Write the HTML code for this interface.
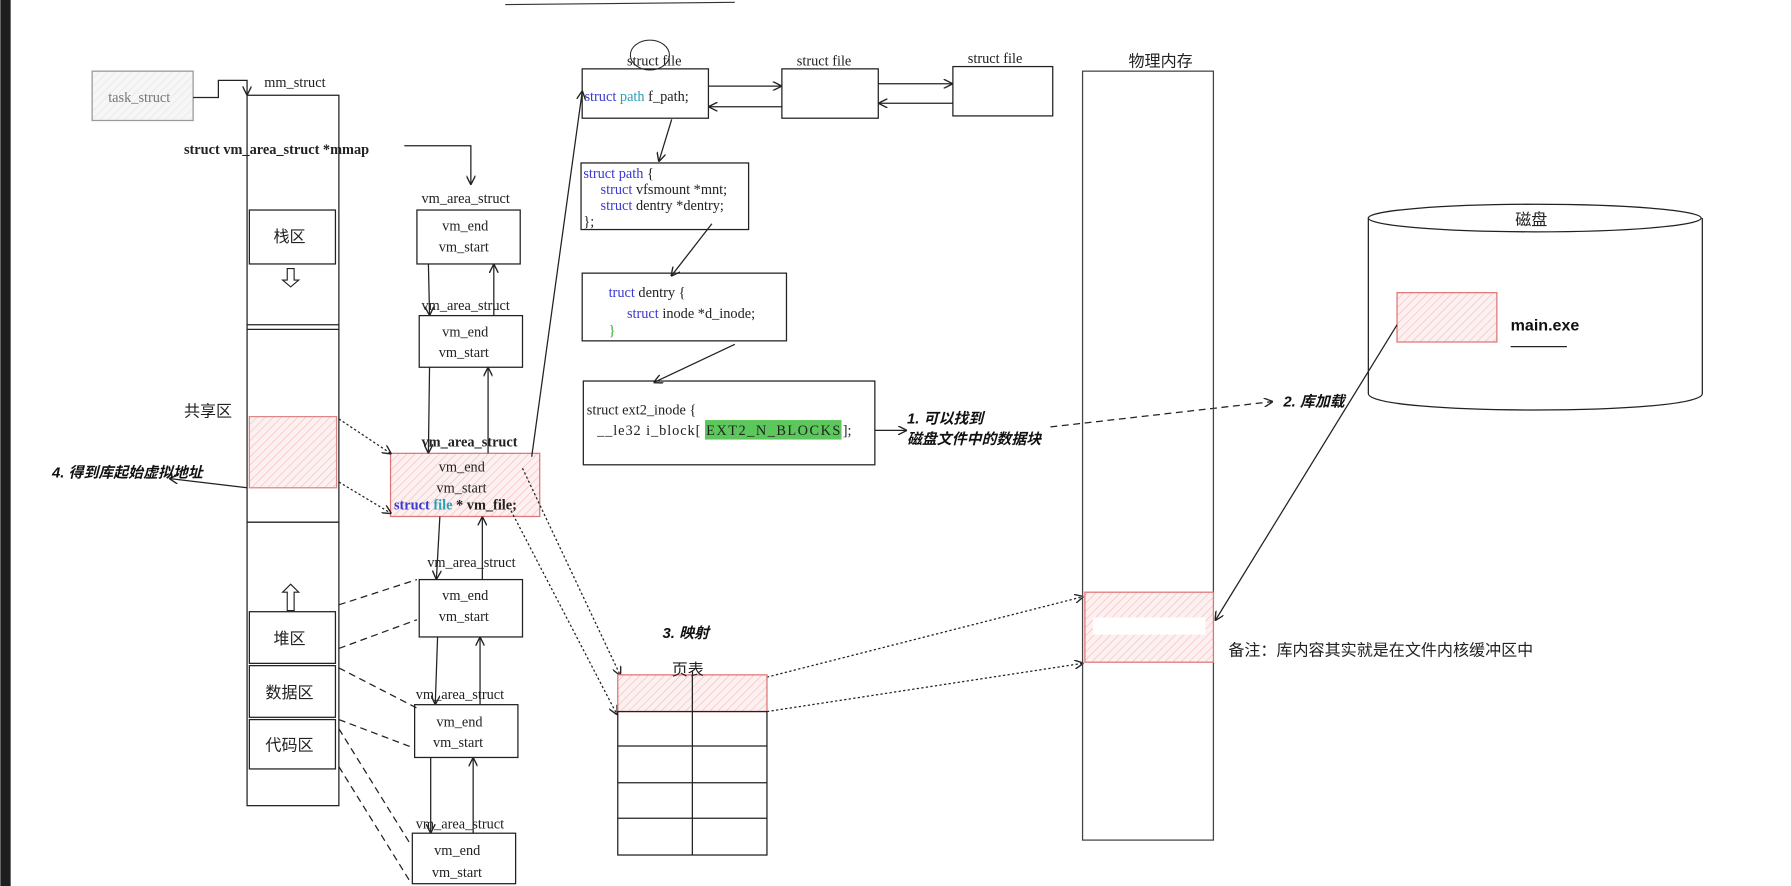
<!DOCTYPE html>
<html><head><meta charset="utf-8"><style>
html,body{margin:0;padding:0;background:#fff;width:1791px;height:886px;overflow:hidden}
svg{display:block}
.s{font-family:"Liberation Serif","Noto Serif CJK SC",serif;font-size:12.5px;fill:#222}
.c{font-family:"Liberation Sans","Noto Sans CJK SC",sans-serif;font-size:14px;fill:#222}
.bi{font-family:"Liberation Sans","Noto Sans CJK SC",sans-serif;font-size:13px;font-weight:bold;font-style:italic;fill:#111}
.k{fill:#3a3ad0}.t{fill:#2a9fb8}
</style></head><body>
<svg width="1791" height="886" viewBox="0 0 1560 772" xmlns="http://www.w3.org/2000/svg">
<defs>
<pattern id="h" width="5" height="5" patternUnits="userSpaceOnUse" patternTransform="rotate(45)">
<rect width="5" height="5" fill="#fdf0f0"/><line x1="0" y1="0" x2="0" y2="5" stroke="#f2b8b8" stroke-width="1"/></pattern>
<pattern id="g" width="5" height="5" patternUnits="userSpaceOnUse" patternTransform="rotate(45)">
<rect width="5" height="5" fill="#f6f6f6"/><line x1="0" y1="0" x2="0" y2="5" stroke="#e2e2e2" stroke-width="1"/></pattern>
<marker id="a" markerWidth="8" markerHeight="8" refX="7" refY="4" orient="auto" markerUnits="userSpaceOnUse"><path d="M0,0 L8,4 L0,8" fill="none" stroke="#222" stroke-width="1.2"/></marker>
</defs>
<rect x="0" y="0" width="9" height="772" fill="#1e1e1e"/>
<line x1="440" y1="4" x2="640" y2="2" stroke="#333"/>
<g fill="none" stroke="#222" stroke-width="1.1">
<rect x="80" y="62" width="88" height="43" fill="url(#g)" stroke="#999"/>
<path d="M168,85 H190 V70 H215 V82" marker-end="url(#a)"/>
<rect x="215" y="83" width="80" height="619"/>
<line x1="215" y1="283" x2="295" y2="283"/><line x1="215" y1="287" x2="295" y2="287"/>
<line x1="215" y1="455" x2="295" y2="455"/>
<rect x="217" y="183" width="75" height="47"/>
<rect x="217" y="363" width="76" height="62" fill="url(#h)" stroke="#d88"/>
<rect x="217" y="533" width="75" height="45"/>
<rect x="217" y="580" width="75" height="45"/>
<rect x="217" y="627" width="75" height="43"/>
<path d="M250,234 V244 H246 L253,250 L260,244 H256 V234 Z" stroke-width="1"/>
<path d="M250,532 V516 H246 L253,509 L260,516 H256 V532 Z" stroke-width="1"/>
<path d="M352,127 H410 V160" marker-end="url(#a)"/>
<path d="M215,425 L148,417" marker-end="url(#a)"/>
<rect x="363" y="183" width="90" height="47"/>
<rect x="365" y="275" width="90" height="45"/>
<rect x="340" y="395" width="130" height="55" fill="url(#h)" stroke="#d77"/>
<rect x="365" y="505" width="90" height="50"/>
<rect x="361" y="614" width="90" height="46"/>
<rect x="359" y="726" width="90" height="44"/>
<line x1="373" y1="230" x2="374" y2="274" marker-end="url(#a)"/><line x1="430" y1="275" x2="430" y2="231" marker-end="url(#a)"/>
<line x1="374" y1="320" x2="373" y2="394" marker-end="url(#a)"/><line x1="425" y1="395" x2="425" y2="321" marker-end="url(#a)"/>
<line x1="383" y1="450" x2="380" y2="504" marker-end="url(#a)"/><line x1="420" y1="505" x2="420" y2="451" marker-end="url(#a)"/>
<line x1="381" y1="555" x2="379" y2="613" marker-end="url(#a)"/><line x1="418" y1="614" x2="418" y2="556" marker-end="url(#a)"/>
<line x1="375" y1="660" x2="375" y2="725" marker-end="url(#a)"/><line x1="412" y1="726" x2="412" y2="661" marker-end="url(#a)"/>
<g stroke-dasharray="6,4">
<line x1="295" y1="527" x2="363" y2="505"/><line x1="295" y1="565" x2="363" y2="540"/>
<line x1="295" y1="582" x2="363" y2="617"/><line x1="295" y1="627" x2="361" y2="652"/>
<line x1="295" y1="635" x2="357" y2="735"/><line x1="295" y1="668" x2="357" y2="768"/>
<line x1="915" y1="372" x2="1108" y2="350" marker-end="url(#a)"/>
</g>
<g stroke-dasharray="2,2">
<line x1="295" y1="365" x2="340" y2="395" marker-end="url(#a)"/>
<line x1="295" y1="420" x2="340" y2="447" marker-end="url(#a)"/>
<line x1="455" y1="408" x2="540" y2="588" marker-end="url(#a)"/>
<line x1="445" y1="445" x2="537" y2="622" marker-end="url(#a)"/>
<line x1="668" y1="590" x2="943" y2="520" marker-end="url(#a)"/>
<line x1="668" y1="620" x2="943" y2="578" marker-end="url(#a)"/>
</g>
<line x1="463" y1="398" x2="507" y2="80" marker-end="url(#a)"/>
<rect x="507" y="60" width="110" height="43"/>
<rect x="681" y="60" width="84" height="43"/>
<rect x="830" y="58" width="87" height="43"/>
<ellipse cx="566" cy="48" rx="17" ry="13" stroke-width="0.9"/>
<line x1="617" y1="75" x2="680" y2="75" marker-end="url(#a)"/><line x1="681" y1="93" x2="618" y2="93" marker-end="url(#a)"/>
<line x1="765" y1="73" x2="829" y2="73" marker-end="url(#a)"/><line x1="830" y1="90" x2="766" y2="90" marker-end="url(#a)"/>
<line x1="585" y1="104" x2="574" y2="140" marker-end="url(#a)"/>
<rect x="506" y="142" width="146" height="58"/>
<line x1="620" y1="195" x2="585" y2="240" marker-end="url(#a)"/>
<rect x="507" y="238" width="178" height="59"/>
<line x1="640" y1="300" x2="570" y2="333" marker-end="url(#a)"/>
<rect x="508" y="332" width="254" height="73"/>
<line x1="762" y1="375" x2="789" y2="375" marker-end="url(#a)"/>
<rect x="538" y="588" width="130" height="32" fill="url(#h)" stroke="#d77"/>
<rect x="538" y="620" width="130" height="125"/>
<line x1="603" y1="588" x2="603" y2="745"/>
<line x1="538" y1="650" x2="668" y2="650"/><line x1="538" y1="682" x2="668" y2="682"/><line x1="538" y1="713" x2="668" y2="713"/>
<rect x="943" y="62" width="114" height="670" stroke="#444"/>
<rect x="945" y="516" width="112" height="61" fill="url(#h)" stroke="#d77"/>
<rect x="952" y="538" width="98" height="15" fill="#fff" stroke="none"/>
<path d="M1192,190 V343 C1192,362 1483,362 1483,343 V190" fill="#fff"/>
<ellipse cx="1337" cy="190" rx="145" ry="12" fill="#fff"/>
<rect x="1217" y="255" width="87" height="43" fill="url(#h)" stroke="#d77"/>
<line x1="1316" y1="302" x2="1365" y2="302"/>
<line x1="1217" y1="283" x2="1059" y2="540" marker-end="url(#a)"/>
</g>
<rect x="614" y="366" width="119" height="17" fill="#5cc85c"/>
<text class="s" x="94" y="89" style="fill:#777">task_struct</text>
<text class="s" x="230" y="76">mm_struct</text>
<text class="s" x="160" y="134" font-weight="bold">struct vm_area_struct *mmap</text>
<text class="c" x="238" y="211">栈区</text>
<text class="c" x="160" y="363">共享区</text>
<text class="c" x="238" y="561">堆区</text>
<text class="c" x="231" y="608">数据区</text>
<text class="c" x="231" y="654">代码区</text>
<text class="bi" x="45" y="416">4. 得到库起始虚拟地址</text>
<text class="s" x="367" y="177">vm_area_struct</text>
<text class="s" x="385" y="201">vm_end</text><text class="s" x="382" y="219">vm_start</text>
<text class="s" x="367" y="270">vm_area_struct</text>
<text class="s" x="385" y="293">vm_end</text><text class="s" x="382" y="311">vm_start</text>
<text class="s" x="367" y="389" font-weight="bold">vm_area_struct</text>
<text class="s" x="382" y="411">vm_end</text><text class="s" x="380" y="429">vm_start</text>
<text class="s" x="343" y="444" font-weight="bold"><tspan class="k">struct</tspan> <tspan class="t">file</tspan> * vm_file;</text>
<text class="s" x="372" y="494">vm_area_struct</text>
<text class="s" x="385" y="523">vm_end</text><text class="s" x="382" y="541">vm_start</text>
<text class="s" x="362" y="609">vm_area_struct</text>
<text class="s" x="380" y="633">vm_end</text><text class="s" x="377" y="651">vm_start</text>
<text class="s" x="362" y="722">vm_area_struct</text>
<text class="s" x="378" y="745">vm_end</text><text class="s" x="376" y="764">vm_start</text>
<text class="s" x="546" y="57">struct file</text>
<text class="s" x="694" y="57">struct file</text>
<text class="s" x="843" y="55">struct file</text>
<text class="s" x="509" y="88" font-size="13"><tspan class="k">struct</tspan> <tspan class="t">path</tspan> f_path;</text>
<text class="s" x="508" y="155"><tspan class="k">struct</tspan> <tspan class="k">path</tspan> {</text>
<text class="s" x="523" y="169"><tspan class="k">struct</tspan> vfsmount *mnt;</text>
<text class="s" x="523" y="183"><tspan class="k">struct</tspan> dentry *dentry;</text>
<text class="s" x="508" y="197">};</text>
<text class="s" x="530" y="259"><tspan class="k">truct</tspan> dentry {</text>
<text class="s" x="546" y="277"><tspan class="k">struct</tspan> inode *d_inode;</text>
<text class="s" x="530" y="292" style="fill:#3a3">}</text>
<text class="s" x="511" y="361">struct ext2_inode {</text>
<text class="s" y="379"><tspan x="520" textLength="90">__le32  i_block[</tspan><tspan x="615" textLength="117">EXT2_N_BLOCKS</tspan><tspan x="734">];</tspan></text>
<text class="bi" x="790" y="369">1. 可以找到</text>
<text class="bi" x="790" y="387">磁盘文件中的数据块</text>
<text class="bi" x="1118" y="354">2. 库加载</text>
<text class="bi" x="577" y="556">3. 映射</text>
<text class="c" x="585" y="588" font-size="13">页表</text>
<text class="c" x="983" y="58" font-size="13">物理内存</text>
<text class="c" x="1320" y="196" font-size="13">磁盘</text>
<text class="c" x="1316" y="288" font-weight="bold" font-size="14" style="fill:#111">main.exe</text>
<text class="c" x="1070" y="571" font-size="13">备注：库内容其实就是在文件内核缓冲区中</text>
</svg>
</body></html>
